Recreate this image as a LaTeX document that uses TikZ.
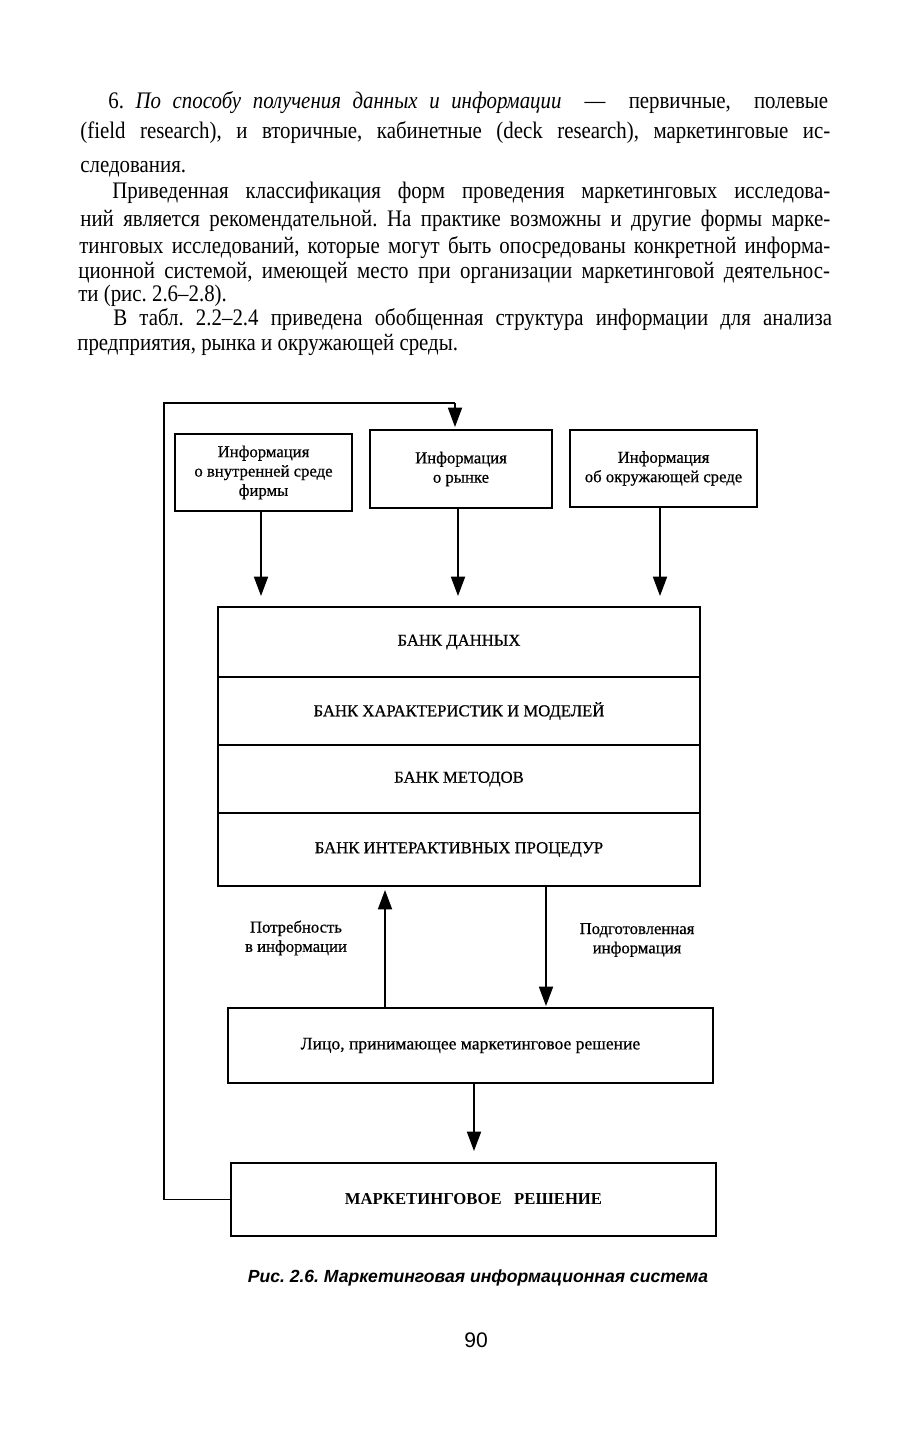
\documentclass[tikz,border=0pt]{standalone}
\usepackage{fontspec}
\setmainfont{Liberation Serif}
\newfontfamily\bodyfont{Liberation Serif}[FakeStretch=0.88]
\newfontfamily\diafont{Liberation Serif}[FakeBold=0.6]
\newfontfamily\capfont{Liberation Sans}
\usetikzlibrary{arrows.meta}
\newcommand{\jline}[2]{\makebox[#1][s]{#2}}
\newcommand{\bodysetup}{\bodyfont\fontsize{13.5}{15}\selectfont}
\frenchspacing
\begin{document}
\begin{tikzpicture}[x=0.02cm,y=-0.02cm,
  bodytext/.style={anchor=base west,inner sep=0pt,font=\bodysetup},
  ibox/.style={draw,line width=0.9pt,inner sep=0pt,align=center,font=\diafont\fontsize{9.5}{11}\selectfont},
  bankrow/.style={draw,line width=0.9pt,inner sep=0pt,outer sep=0pt,minimum width=9.64cm,align=center,font=\diafont\fontsize{9.5}{11}\selectfont},
  lbl/.style={inner sep=0pt,align=center,font=\diafont\fontsize{9.5}{11}\selectfont},
  arr/.style={line width=0.9pt,-{Triangle[length=11pt,width=8pt]}},
  fbline/.style={line width=0.9pt}]
\useasboundingbox (0,0) rectangle (912,1440);
\fill[white] (0,0) rectangle (912,1440);

% body text
\node[bodytext] (t1) at (108,108) {\jline{409.7pt}{6. \textit{По способу получения данных и информации} \ — \ первичные, \ полевые}};
\node[bodytext] (t2) at (80,138) {\jline{426.8pt}{(field research), и вторичные, кабинетные (deck research), маркетинговые ис-}};
\node[bodytext] (t3) at (80,172) {следования.};
\node[bodytext] (t4) at (112,198) {\jline{408.6pt}{Приведенная классификация форм проведения маркетинговых исследова-}};
\node[bodytext] (t5) at (80,226) {\jline{426.8pt}{ний является рекомендательной. На практике возможны и другие формы марке-}};
\node[bodytext] (t6) at (79,253) {\jline{427.4pt}{тинговых исследований, которые могут быть опосредованы конкретной информа-}};
\node[bodytext] (t7) at (78,278) {\jline{427.9pt}{ционной системой, имеющей место при организации маркетинговой деятельнос-}};
\node[bodytext] (t8) at (78,301) {ти (рис. 2.6–2.8).};
\node[bodytext] (t9) at (113,325) {\jline{409.1pt}{В табл. 2.2–2.4 приведена обобщенная структура информации для анализа}};
\node[bodytext] (t10) at (77,350) {предприятия, рынка и окружающей среды.};

% top information boxes
\node[ibox,minimum width=3.54cm,minimum height=1.54cm] (b1) at (263.5,472.5) {Информация\\о внутренней среде\\фирмы};
\node[ibox,minimum width=3.64cm,minimum height=1.56cm] (b2) at (461,469) {Информация\\о рынке};
\node[ibox,minimum width=3.74cm,minimum height=1.54cm] (b3) at (663.5,468.5) {Информация\\об окружающей среде};

% banks
\node[bankrow,minimum height=1.40cm] (k1) at (459,642) {БАНК ДАННЫХ};
\node[bankrow,minimum height=1.36cm,anchor=north] (k2) at (k1.south) {БАНК ХАРАКТЕРИСТИК И МОДЕЛЕЙ};
\node[bankrow,minimum height=1.36cm,anchor=north] (k3) at (k2.south) {БАНК МЕТОДОВ};
\node[bankrow,minimum height=1.46cm,anchor=north] (k4) at (k3.south) {БАНК ИНТЕРАКТИВНЫХ ПРОЦЕДУР};

% arrows into banks
\coordinate (e1) at (261,596);
\coordinate (e2) at (458,596);
\coordinate (e3) at (660,596);
\draw[arr] (b1.south -| e1) -- (e1);
\draw[arr] (b2.south -| e2) -- (e2);
\draw[arr] (b3.south -| e3) -- (e3);

% decision maker
\node[ibox,minimum width=9.7cm,minimum height=1.5cm,font=\diafont\fontsize{10}{12}\selectfont] (dm) at (470.5,1045.5) {Лицо, принимающее маркетинговое решение};
\coordinate (up) at (385,890);
\coordinate (dn) at (546,1006);
\draw[arr] (dm.north -| up) -- (up);
\draw[arr] (k4.south -| dn) -- (dn);
\node[lbl] (need) at (296,938) {Потребность\\в информации};
\node[lbl] (prep) at (637,940) {Подготовленная\\информация};

% decision
\node[ibox,minimum width=9.7cm,minimum height=1.46cm,font=\bfseries\fontsize{9.5}{11}\selectfont] (dec) at (473.5,1199.5) {МАРКЕТИНГОВОЕ\ \ \ РЕШЕНИЕ};
\coordinate (d1) at (474,1151);
\draw[arr] (dm.south -| d1) -- (d1);

% feedback loop
\coordinate (f1) at (164,1199.5);
\coordinate (f2) at (164,403);
\coordinate (f3) at (455,403);
\coordinate (f4) at (455,427);
\draw[fbline] (dec.west) -- (f1) -- (f2) -- (f3);
\draw[arr] (f3) -- (f4);

% caption and page number
\node[inner sep=0pt,font=\capfont\bfseries\itshape\fontsize{10}{12}\selectfont] (cap) at (478,1278) {Рис. 2.6. Маркетинговая информационная система};
\node[inner sep=0pt,font=\capfont\fontsize{12}{14}\selectfont] (pg) at (476,1340) {90};
\end{tikzpicture}
\end{document}
